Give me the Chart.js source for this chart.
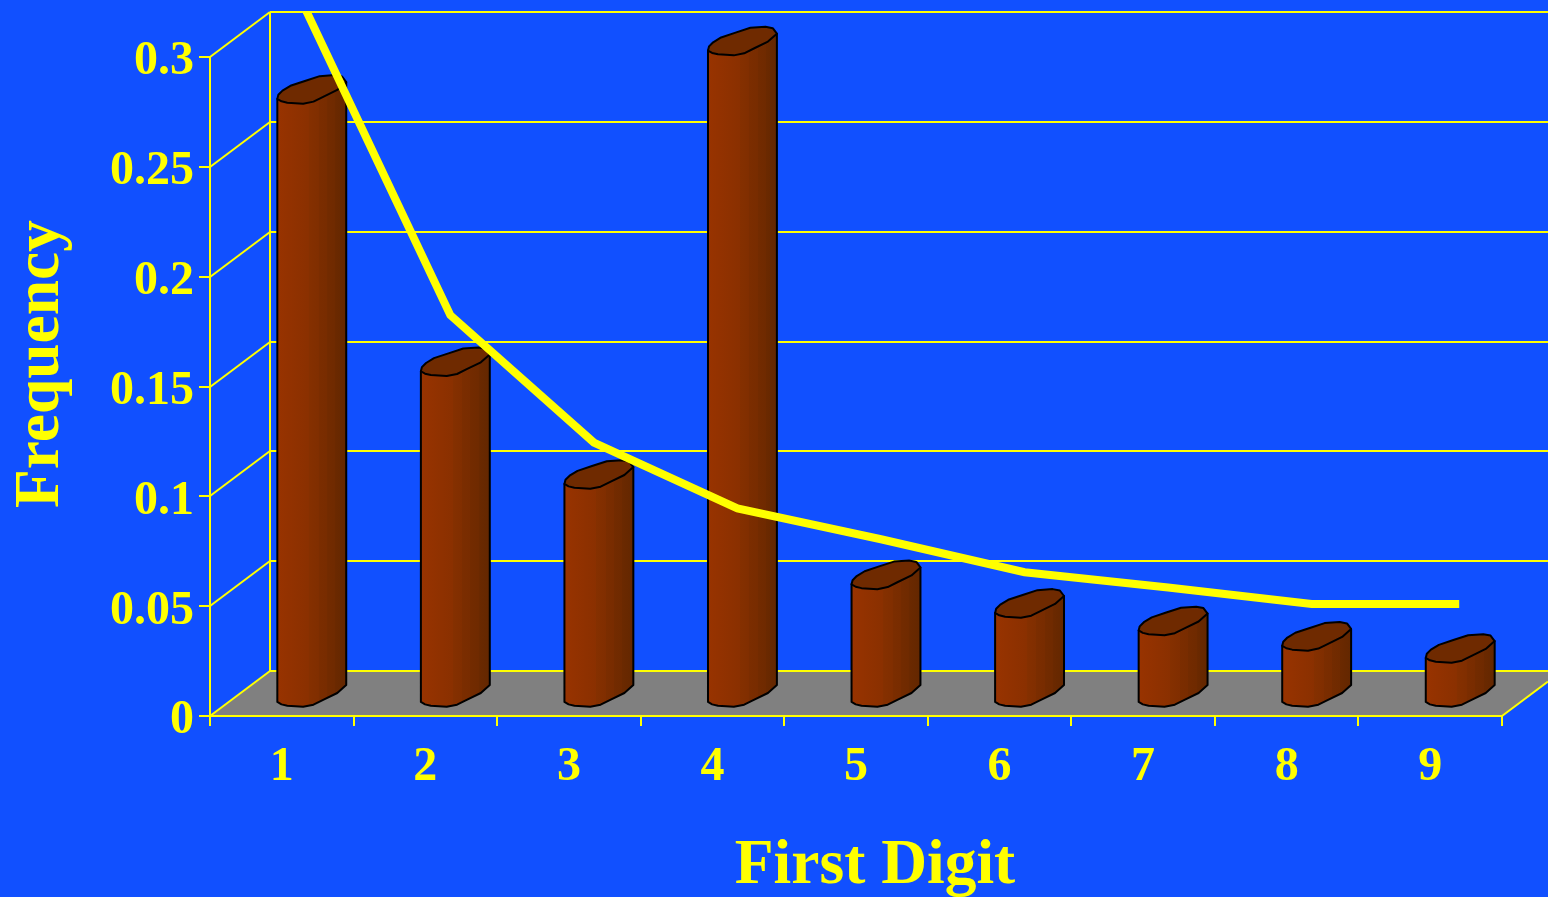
<!DOCTYPE html>
<html>
<head>
<meta charset="utf-8">
<title>First Digit Frequency</title>
<script src="https://cdn.jsdelivr.net/npm/chart.js@4"></script>
<style>
    html, body { margin: 0; padding: 0; background: #1150ff; overflow: hidden; }
    canvas { display: block; }
</style>
</head>
<body>
<canvas id="chart" width="1548" height="897"></canvas>
<script>
const digits = ['1', '2', '3', '4', '5', '6', '7', '8', '9'];
const observed = [0.275, 0.151, 0.0997, 0.297, 0.054, 0.041, 0.033, 0.026, 0.0205];
const expected = [0.31, 0.172, 0.114, 0.084, 0.07, 0.055, 0.048, 0.0405, 0.0405];

const yellow = '#ffff00';
const serif = "'Liberation Serif', serif";

// how far the back wall sits behind the front plane
const wall = { dx: 60, dy: -45 };
// bars stand half way back on the floor, the line a little left of them
const barShift = { dx: 30, dy: -22 };
const lineShift = { dx: 25, dy: -23 };

// cap outline in half-widths around the bar centre, clockwise from the left edge
const capTop = [
    [-1, 0.26], [-0.97, 0.14], [-0.85, 0.02], [-0.62, -0.12], [-0.2, -0.26], [0.23, -0.4],
    [0.67, -0.43], [0.88, -0.39], [1, -0.23]
];
const capBottom = [[0.74, 0], [0.33, 0.2], [0.05, 0.34], [-0.25, 0.4], [-0.71, 0.37], [-0.88, 0.33]];

// left to right shading of the side wall, hard steps on the darker half
const sideShades = [
    [0, '#983300'], [0.46, '#8a3000'], [0.46, '#853000'], [0.6, '#802e00'],
    [0.6, '#7b2d00'], [0.72, '#782c00'], [0.72, '#732b00'], [0.84, '#6f2a00'],
    [0.84, '#6b2900'], [1, '#632700']
];

function strokeSegment(ctx, x1, y1, x2, y2) {
    ctx.beginPath();
    ctx.moveTo(x1, y1);
    ctx.lineTo(x2, y2);
    ctx.stroke();
}

function drawCylinder(ctx, bar) {
    const r = bar.width / 2;
    const left = bar.x - r;
    const right = bar.x + r;

    const body = ctx.createLinearGradient(left, 0, right, 0);
    sideShades.forEach(([at, colour]) => body.addColorStop(at, colour));

    ctx.lineJoin = 'round';
    ctx.lineWidth = 2;
    ctx.strokeStyle = '#000';

    // side wall: top right corner, down the right edge, round the base, up the left edge
    ctx.beginPath();
    ctx.moveTo(right, bar.y - 0.23 * r);
    ctx.lineTo(right, bar.base - 0.23 * r);
    capBottom.forEach(([u, v]) => ctx.lineTo(bar.x + u * r, bar.base + v * r));
    ctx.lineTo(left, bar.base + 0.26 * r);
    ctx.lineTo(left, bar.y + 0.26 * r);
    ctx.closePath();
    ctx.fillStyle = body;
    ctx.fill();
    ctx.stroke();

    // top cap
    ctx.beginPath();
    capTop.concat(capBottom).forEach(([u, v]) => ctx.lineTo(bar.x + u * r, bar.y + v * r));
    ctx.closePath();
    ctx.fillStyle = '#6f2a00';
    ctx.fill();
    ctx.stroke();
}

const scenery = {
    id: 'scenery',
    beforeDraw(chart) {
        const { ctx, scales: { x, y } } = chart;
        const left = x.left;
        const floorY = y.getPixelForValue(0);
        const edge = chart.width;
        ctx.save();
        ctx.fillStyle = '#1150ff';
        ctx.fillRect(0, 0, chart.width, chart.height);

        // floor
        const run = (edge - x.right) / wall.dx;
        ctx.fillStyle = '#808080';
        ctx.beginPath();
        ctx.moveTo(left, floorY);
        ctx.lineTo(left + wall.dx, floorY + wall.dy);
        ctx.lineTo(edge, floorY + wall.dy);
        ctx.lineTo(edge, floorY + wall.dy * run);
        ctx.lineTo(x.right, floorY);
        ctx.closePath();
        ctx.fill();

        // gridlines up the side wall and along the back
        ctx.strokeStyle = yellow;
        ctx.lineWidth = 2;
        y.ticks.forEach((t) => {
            const py = Math.round(y.getPixelForValue(t.value));
            const back = Math.round(y.getPixelForValue(t.value) + wall.dy);
            strokeSegment(ctx, left, py, left + wall.dx, back);
            strokeSegment(ctx, left + wall.dx, back, edge, back);
        });
        strokeSegment(ctx, left + wall.dx, y.top + wall.dy, left + wall.dx, floorY + wall.dy);
        strokeSegment(ctx, x.right, floorY, edge, floorY + wall.dy * run);
        ctx.restore();
    },
    beforeDatasetDraw(chart, args) {
        const { ctx } = chart;
        const shift = args.index === 0 ? barShift : lineShift;
        ctx.save();
        if (args.index === 1) {
            // the line stops at the top of the back wall
            ctx.beginPath();
            ctx.rect(0, chart.scales.y.top + wall.dy - 1, chart.width, chart.height);
            ctx.clip();
        }
        ctx.translate(shift.dx, shift.dy);
    },
    afterDatasetDraw(chart, args) {
        const { ctx } = chart;
        if (args.index === 0) {
            args.meta.data.forEach((bar) => drawCylinder(ctx, bar));
        }
        ctx.restore();
    },
    afterDraw(chart) {
        const { ctx } = chart;
        ctx.save();
        ctx.fillStyle = yellow;
        ctx.font = 'bold 63.5px ' + serif;
        ctx.textAlign = 'center';
        ctx.textBaseline = 'alphabetic';
        ctx.fillText('First Digit', 875, 883);
        ctx.translate(58, 364);
        ctx.rotate(-Math.PI / 2);
        ctx.fillText('Frequency', 0, 0);
        ctx.restore();
    }
};

new Chart(document.getElementById('chart'), {
    data: {
        labels: digits,
        datasets: [
            {
                type: 'bar',
                label: 'Observed',
                data: observed,
                backgroundColor: 'transparent',
                borderWidth: 0,
                barPercentage: 1,
                categoryPercentage: 0.48,
                clip: false,
                order: 2
            },
            {
                type: 'line',
                label: 'Expected',
                data: expected,
                borderColor: yellow,
                borderWidth: 8,
                borderCapStyle: 'square',
                borderJoinStyle: 'miter',
                pointRadius: 0,
                tension: 0,
                fill: false,
                clip: false,
                order: 1
            }
        ]
    },
    options: {
        responsive: false,
        animation: false,
        layout: { padding: { top: 57, right: 46, left: 0, bottom: 0 } },
        plugins: { legend: { display: false }, tooltip: { enabled: false } },
        scales: {
            x: {
                type: 'category',
                offset: true,
                afterFit(scale) { scale.height = 181; },
                border: { color: yellow, width: 2 },
                grid: { color: yellow, lineWidth: 2, offset: true, drawOnChartArea: false, tickLength: 10 },
                ticks: {
                    color: yellow,
                    padding: 13,
                    maxRotation: 0,
                    autoSkip: false,
                    font: { family: serif, size: 48, weight: 'bold' }
                }
            },
            y: {
                min: 0,
                max: 0.3,
                afterFit(scale) { scale.width = 210; },
                border: { color: yellow, width: 2 },
                grid: { color: yellow, lineWidth: 2, drawOnChartArea: false, tickLength: 11 },
                ticks: {
                    color: yellow,
                    padding: 5,
                    labelOffset: 5,
                    stepSize: 0.05,
                    callback: (v) => String(+v.toFixed(2)),
                    font: { family: serif, size: 48, weight: 'bold' }
                }
            }
        }
    },
    plugins: [scenery]
});
</script>
</body>
</html>
